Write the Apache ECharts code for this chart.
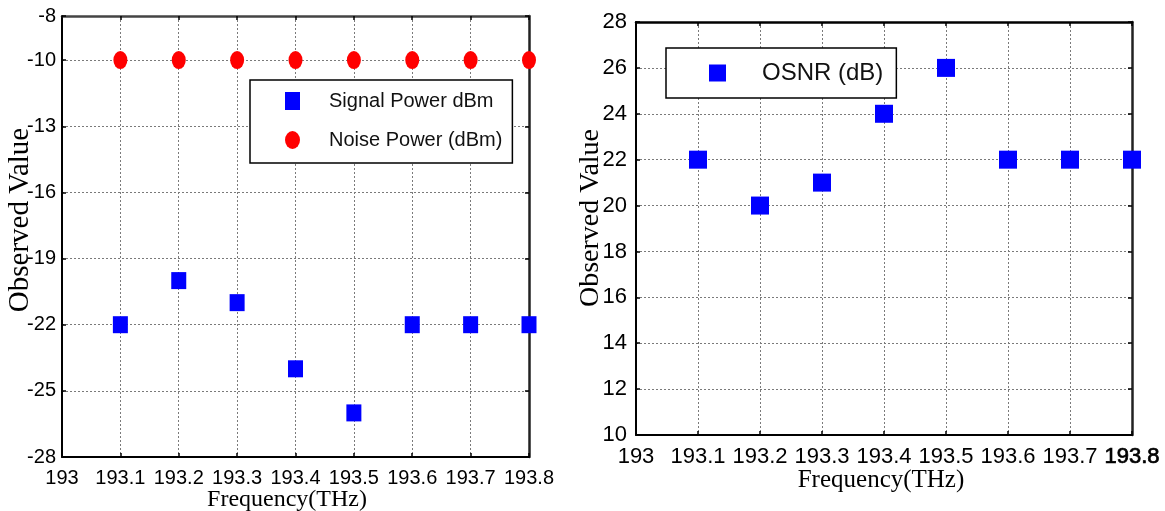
<!DOCTYPE html>
<html>
<head>
<meta charset="utf-8">
<title>Signal, Noise and OSNR vs Frequency</title>
<script src="https://cdn.jsdelivr.net/npm/echarts@6/dist/echarts.min.js"></script>
<style>
  html, body { margin: 0; padding: 0; background: #fff; }
  #chart { width: 1165px; height: 511px; }
</style>
</head>
<body>
<div id="chart"></div>
<script>
// Channel frequencies (THz)
const frequencies = [193.1, 193.2, 193.3, 193.4, 193.5, 193.6, 193.7, 193.8];
// Measured powers per channel (dBm)
const signalPower = [-22, -20, -21, -24, -26, -22, -22, -22];
const noisePower = [-10, -10, -10, -10, -10, -10, -10, -10];
// Optical signal-to-noise ratio per channel (dB)
const osnr = [22, 20, 21, 24, 26, 22, 22, 22];

// Axis ranges / tick steps
const freqAxis = { min: 193, max: 193.8, interval: 0.1 };
const powerAxis = { min: -28, max: -8, interval: 3 };
const osnrAxis = { min: 10, max: 28, interval: 2 };

const seriesNames = ['Signal Power dBm', 'Noise Power (dBm)', 'OSNR (dB)'];
const axisTitleX = 'Frequency(THz)';
const axisTitleY = 'Observed Value';

const SANS = '"Liberation Sans", Arial, sans-serif';
const SERIF = '"Liberation Serif", "Times New Roman", serif';
const ELLIPSE = 'path://M0,1 A1,1 0 1,1 2,1 A1,1 0 1,1 0,1 Z';

const pairs = (xs, ys) => xs.map((x, i) => [x, ys[i]]);
const fmtFreq = v => String(Math.round(v * 10) / 10);

const gridLine = { show: true, lineStyle: { type: [2, 2], color: '#7a7a7a', width: 1 } };
const tickIn = { show: true, inside: true, length: 4, lineStyle: { color: '#000', width: 1.5 } };
const boxLine = { show: true, onZero: false, lineStyle: { color: '#000', width: 2 } };

function xAxes(gridIndex, range, fontSize, heavyLast, topColor) {
  return [
    {
      type: 'value', gridIndex, position: 'bottom', ...range,
      axisLine: boxLine, axisTick: tickIn, splitLine: gridLine,
      axisLabel: {
        color: '#000', fontFamily: SANS, fontSize, margin: 11,
        formatter: v => {
          const s = fmtFreq(v);
          return (heavyLast && Math.abs(v - range.max) < 1e-6) ? '{h|' + s + '}' : s;
        },
        rich: { h: { fontFamily: SANS, fontSize, color: '#000', textBorderColor: '#000', textBorderWidth: 0.7 } }
      }
    },
    {
      type: 'value', gridIndex, position: 'top', ...range,
      axisLine: { show: true, onZero: false, lineStyle: { color: topColor, width: 2.5 } },
      axisTick: tickIn, splitLine: { show: false },
      axisLabel: { show: false }
    }
  ];
}

function yAxes(gridIndex, range, fontSize, margin) {
  return [
    {
      type: 'value', gridIndex, position: 'left', ...range,
      axisLine: boxLine, axisTick: tickIn, splitLine: gridLine,
      axisLabel: { color: '#000', fontFamily: SANS, fontSize, margin }
    },
    {
      type: 'value', gridIndex, position: 'right', ...range,
      axisLine: { show: true, onZero: false, lineStyle: { color: '#222', width: 2.5 } },
      axisTick: tickIn, splitLine: { show: false },
      axisLabel: { show: false }
    }
  ];
}

const chart = echarts.init(document.getElementById('chart'), null, { renderer: 'canvas' });

chart.setOption({
  animation: false,
  backgroundColor: '#fff',
  grid: [
    { left: 62, right: 636, top: 16, bottom: 54 },
    { left: 636, right: 33, top: 22, bottom: 76 }
  ],
  xAxis: [
    ...xAxes(0, freqAxis, 20, false, '#444'),
    ...xAxes(1, freqAxis, 22, true, '#000')
  ],
  yAxis: [
    ...yAxes(0, powerAxis, 20, 6),
    ...yAxes(1, osnrAxis, 22, 9)
  ],
  legend: [
    {
      data: [seriesNames[0], seriesNames[1]],
      orient: 'vertical', left: 250, top: 80,
      padding: [11, 10, 13, 35],
      itemWidth: 15, itemHeight: 18, itemGap: 19,
      symbolKeepAspect: false,
      borderColor: '#000', borderWidth: 1.5, borderRadius: 0,
      backgroundColor: '#fff',
      textStyle: { color: '#111', fontFamily: SANS, fontSize: 20, lineHeight: 18, padding: [0, 0, 0, 24] }
    },
    {
      data: [seriesNames[2]],
      orient: 'vertical', left: 666, top: 48,
      padding: [13, 13, 13, 43],
      itemWidth: 17, itemHeight: 17,
      symbolKeepAspect: false,
      borderColor: '#000', borderWidth: 1.5, borderRadius: 0,
      backgroundColor: '#fff',
      textStyle: { color: '#111', fontFamily: SANS, fontSize: 24, lineHeight: 18, padding: [0, 0, 0, 31] }
    }
  ],
  graphic: [
    { type: 'text', x: 287, y: 500, style: { text: axisTitleX, font: '24px ' + SERIF, fill: '#000', align: 'center', verticalAlign: 'middle' } },
    { type: 'text', x: 881, y: 480, style: { text: axisTitleX, font: '25px ' + SERIF, fill: '#000', align: 'center', verticalAlign: 'middle' } },
    { type: 'text', x: 20, y: 220, rotation: Math.PI / 2, style: { text: axisTitleY, font: '29px ' + SERIF, fill: '#000', align: 'center', verticalAlign: 'middle' } },
    { type: 'text', x: 591, y: 218, rotation: Math.PI / 2, style: { text: axisTitleY, font: '28px ' + SERIF, fill: '#000', align: 'center', verticalAlign: 'middle' } }
  ],
  series: [
    {
      name: seriesNames[0], type: 'scatter', xAxisIndex: 0, yAxisIndex: 0,
      symbol: 'rect', symbolSize: [15, 17],
      itemStyle: { color: '#0000ff', opacity: 1 },
      data: pairs(frequencies, signalPower), z: 5
    },
    {
      name: seriesNames[1], type: 'scatter', xAxisIndex: 0, yAxisIndex: 0,
      symbol: ELLIPSE, symbolSize: [14, 18], symbolKeepAspect: false,
      itemStyle: { color: '#ff0000', opacity: 1 },
      data: pairs(frequencies, noisePower), z: 5
    },
    {
      name: seriesNames[2], type: 'scatter', xAxisIndex: 2, yAxisIndex: 2,
      symbol: 'rect', symbolSize: [18, 18],
      itemStyle: { color: '#0000ff', opacity: 1 },
      data: pairs(frequencies, osnr), z: 5
    }
  ]
});
</script>
</body>
</html>
